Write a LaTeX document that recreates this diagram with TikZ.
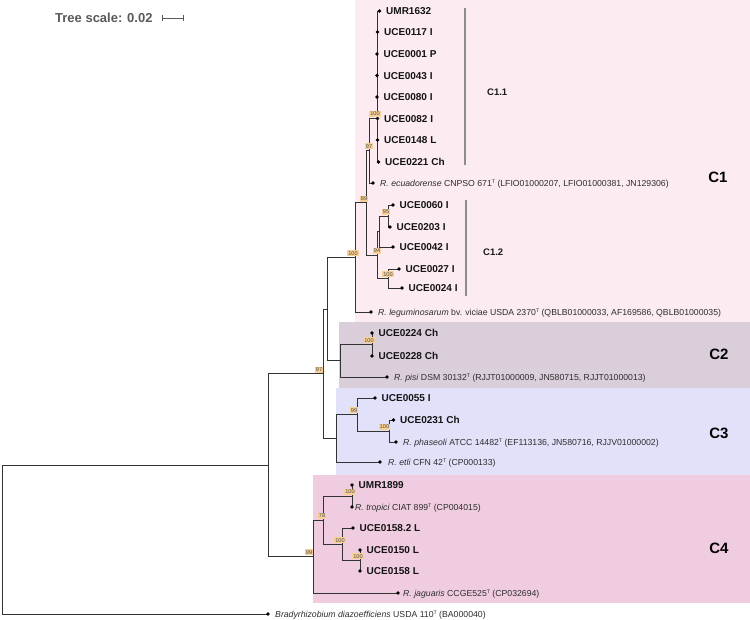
\documentclass[tikz,border=0pt]{standalone}
\usepackage{fontspec}
\setmainfont{Liberation Sans}
\usetikzlibrary{positioning}

\definecolor{cladeone}{HTML}{FCEBF1}
\definecolor{cladetwo}{HTML}{DBCEDB}
\definecolor{cladethree}{HTML}{E1E1FA}
\definecolor{cladefour}{HTML}{F0CCE0}
\definecolor{bootfill}{HTML}{F8CF95}
\newcommand{\typeT}{\raisebox{2.6pt}{\fontsize{5.2}{5}\selectfont T}}

\begin{document}
\begin{tikzpicture}[x=1pt, y=-1pt,
  limb/.style={draw=black!80, line width=0.9pt},
  strain/.style={font=\fontsize{10}{12}\selectfont\bfseries, text=black!92, inner sep=0pt, text height=7.2pt, text depth=0pt},
  species/.style={font=\fontsize{8.7}{10}\selectfont, text=black!82, inner sep=0pt, text height=6.2pt, text depth=0pt},
  boot/.style={fill=bootfill, text=black!70, font=\fontsize{5.6}{6}\selectfont, inner xsep=0.9pt, inner ysep=1pt, text height=4pt, text depth=0pt, anchor=south, xshift=-2pt, yshift=1pt},
  clade/.style={font=\fontsize{15}{18}\selectfont\bfseries, text=black},
  subclade/.style={font=\fontsize{9.5}{11}\selectfont\bfseries, text=black!90, anchor=west, inner sep=0pt},
  bracket/.style={draw=black!45, line width=1.3pt}]

  \useasboundingbox (0,0) rectangle (750,619);

  % Clade backgrounds
  \fill[cladeone] (355,0) rectangle (750,322);
  \fill[cladetwo] (339,322) rectangle (750,388);
  \fill[cladethree] (336,388) rectangle (750,475);
  \fill[cladefour] (313,475) rectangle (750,603);

  % Tree scale
  \node[font=\fontsize{13}{15}\selectfont\bfseries, text=black!65, anchor=west, inner sep=0pt] (scale) at (55,18) {Tree scale: 0.02};
  \coordinate (barL) at (162,18);
  \coordinate (barR) at (183,18);
  \draw[black!65, line width=0.9pt] (barL) -- (barR) (barL) ++(0,-3) -- ++(0,6) (barR) ++(0,-3) -- ++(0,6);

  % 1. INTERNAL NODES
  \coordinate (r) at (2,539.5);
  \coordinate (a) at (268,465.1);
  \coordinate (n97) at (323,373.7);
  \coordinate (nA) at (327,309.1);
  \coordinate (c1) at (355,257.4);
  \coordinate (n89) at (366,202.75);
  \coordinate (n97b) at (369,150.5);
  \coordinate (n100a) at (377,118);
  \coordinate (n94) at (377,255);
  \coordinate (nX) at (379,231.5);
  \coordinate (n95) at (388,216);
  \coordinate (n100b) at (388,278.5);
  \coordinate (c2) at (340,360.75);
  \coordinate (n100c) at (372,344.5);
  \coordinate (nB) at (336,438.25);
  \coordinate (n99) at (357,414.5);
  \coordinate (n100d) at (389,431);
  \coordinate (n99c) at (313,556.55);
  \coordinate (n78) at (323,520.1);
  \coordinate (n100e) at (352,496);
  \coordinate (n100f) at (342,544.25);
  \coordinate (n100g) at (360,560.5);

  % 2. LEAVES
  \coordinate (tUMR1632) at (379.5,11);
  \coordinate (t0117) at (377.5,32);
  \coordinate (t0001) at (377,54);
  \coordinate (t0043) at (377,75.5);
  \coordinate (t0080) at (377,97);
  \coordinate (t0082) at (377.5,118.5);
  \coordinate (t0148) at (377.5,140);
  \coordinate (t0221) at (378.5,162);
  \coordinate (tEcu) at (373,183);
  \coordinate (t0060) at (393,205);
  \coordinate (t0203) at (390,227);
  \coordinate (t0042) at (393,247);
  \coordinate (t0027) at (399,269);
  \coordinate (t0024) at (402,288);
  \coordinate (tLeg) at (371,312);
  \coordinate (t0224) at (372,333);
  \coordinate (t0228) at (372,356);
  \coordinate (tPisi) at (387,377);
  \coordinate (t0055) at (375,398);
  \coordinate (t0231) at (393.5,420);
  \coordinate (tPha) at (396,442);
  \coordinate (tEtli) at (380,462);
  \coordinate (tU1899) at (352,485);
  \coordinate (tTro) at (352,507);
  \coordinate (t01582) at (353,528);
  \coordinate (t0150) at (360,550);
  \coordinate (t0158) at (360,571);
  \coordinate (tJag) at (398,593);
  \coordinate (tBrady) at (268,614);

  % 3. BRANCHES
  \draw[limb] (r) |- (a) (r) |- (tBrady);
  \draw[limb] (a) |- (n97) (a) |- (n99c);
  \draw[limb] (n97) |- (nA) (n97) |- (nB);
  \draw[limb] (nA) |- (c1) (nA) |- (c2);
  \draw[limb] (c1) |- (n89) (c1) |- (tLeg);
  \draw[limb] (n89) |- (n97b) (n89) |- (n94);
  \draw[limb] (n97b) |- (n100a) (n97b) |- (tEcu);
  \foreach \t in {tUMR1632, t0117, t0001, t0043, t0080, t0082, t0148, t0221}
    \draw[limb] (n100a) |- (\t);
  \draw[limb] (n94) |- (nX) (n94) |- (n100b);
  \draw[limb] (nX) |- (n95) (nX) |- (t0042);
  \draw[limb] (n95) |- (t0060) (n95) |- (t0203);
  \draw[limb] (n100b) |- (t0027) (n100b) |- (t0024);
  \draw[limb] (c2) |- (n100c) (c2) |- (tPisi);
  \draw[limb] (n100c) |- (t0224) (n100c) |- (t0228);
  \draw[limb] (nB) |- (n99) (nB) |- (tEtli);
  \draw[limb] (n99) |- (t0055) (n99) |- (n100d);
  \draw[limb] (n100d) |- (t0231) (n100d) |- (tPha);
  \draw[limb] (n99c) |- (n78) (n99c) |- (tJag);
  \draw[limb] (n78) |- (n100e) (n78) |- (n100f);
  \draw[limb] (n100e) |- (tU1899) (n100e) |- (tTro);
  \draw[limb] (n100f) |- (t01582) (n100f) |- (n100g);
  \draw[limb] (n100g) |- (t0150) (n100g) |- (t0158);

  % 4. TIP DOTS AND LABELS
  \foreach \t in {tUMR1632, t0117, t0001, t0043, t0080, t0082, t0148, t0221, tEcu, t0060, t0203, t0042, t0027, t0024, tLeg, t0224, t0228, tPisi, t0055, t0231, tPha, tEtli, tU1899, tTro, t01582, t0150, t0158, tJag, tBrady}
    \fill[black] (\t) circle (1.8pt);

  \foreach \t/\txt in {tUMR1632/UMR1632, t0117/UCE0117 I, t0001/UCE0001 P, t0043/UCE0043 I, t0080/UCE0080 I, t0082/UCE0082 I, t0148/UCE0148 L, t0221/UCE0221 Ch, t0060/UCE0060 I, t0203/UCE0203 I, t0042/UCE0042 I, t0027/UCE0027 I, t0024/UCE0024 I, t0224/UCE0224 Ch, t0228/UCE0228 Ch, t0055/UCE0055 I, t0231/UCE0231 Ch, tU1899/UMR1899, t01582/UCE0158.2 L, t0150/UCE0150 L, t0158/UCE0158 L}
    \node[strain, right=6.5pt of \t] (l\t) {\txt};

  \node[species, right=7pt of tEcu] (lEcu) {\textit{R. ecuadorense} CNPSO 671\typeT{} (LFIO01000207, LFIO01000381, JN129306)};
  \node[species, right=7pt of tLeg] (lLeg) {\textit{R. leguminosarum} bv. viciae USDA 2370\typeT{} (QBLB01000033, AF169586, QBLB01000035)};
  \node[species, right=7pt of tPisi] (lPisi) {\textit{R. pisi} DSM 30132\typeT{} (RJJT01000009, JN580715, RJJT01000013)};
  \node[species, right=7pt of tPha] (lPha) {\textit{R. phaseoli} ATCC 14482\typeT{} (EF113136, JN580716, RJJV01000002)};
  \node[species, right=8pt of tEtli] (lEtli) {\textit{R. etli} CFN 42\typeT{} (CP000133)};
  \node[species, right=3pt of tTro] (lTro) {\textit{R. tropici} CIAT 899\typeT{} (CP004015)};
  \node[species, right=5pt of tJag] (lJag) {\textit{R. jaguaris} CCGE525\typeT{} (CP032694)};
  \node[species, right=7pt of tBrady] (lBrady) {\textit{Bradyrhizobium diazoefficiens} USDA 110\typeT{} (BA000040)};

  % 5. BOOTSTRAP VALUES
  \node[boot] (b100a) at (n100a) {100};
  \node[boot, xshift=2pt] (b97b) at (n97b) {97};
  \node[boot] (b89) at (n89) {89};
  \node[boot] (b100c1) at (c1) {100};
  \node[boot] (b95) at (n95) {95};
  \node[boot, xshift=2pt] (b94) at (n94) {94};
  \node[boot, xshift=2pt] (b100b) at (n100b) {100};
  \node[boot, xshift=-1pt] (b100c) at (n100c) {100};
  \node[boot, xshift=-2pt] (b97) at (n97) {97};
  \node[boot, xshift=-1pt] (b99) at (n99) {99};
  \node[boot, xshift=-2.5pt] (b100d) at (n100d) {100};
  \node[boot, xshift=-2pt] (b99c) at (n99c) {99};
  \node[boot, xshift=1pt] (b78) at (n78) {78};
  \node[boot] (b100e) at (n100e) {100};
  \node[boot] (b100f) at (n100f) {100};
  \node[boot] (b100g) at (n100g) {100};

  % 6. CLADE MARKS
  \coordinate (s11top) at (465,8);
  \coordinate (s11bot) at (465,165);
  \draw[bracket] (s11top) -- (s11bot);
  \node[subclade] (lC11) at (487,92) {C1.1};
  \coordinate (s12top) at (466,200);
  \coordinate (s12bot) at (466,296);
  \draw[bracket] (s12top) -- (s12bot);
  \node[subclade] (lC12) at (483,252) {C1.2};

  \node[clade] (cC1) at (718,177) {C1};
  \node[clade] (cC2) at (719,354) {C2};
  \node[clade] (cC3) at (719,433) {C3};
  \node[clade] (cC4) at (719,548) {C4};

\end{tikzpicture}
\end{document}
